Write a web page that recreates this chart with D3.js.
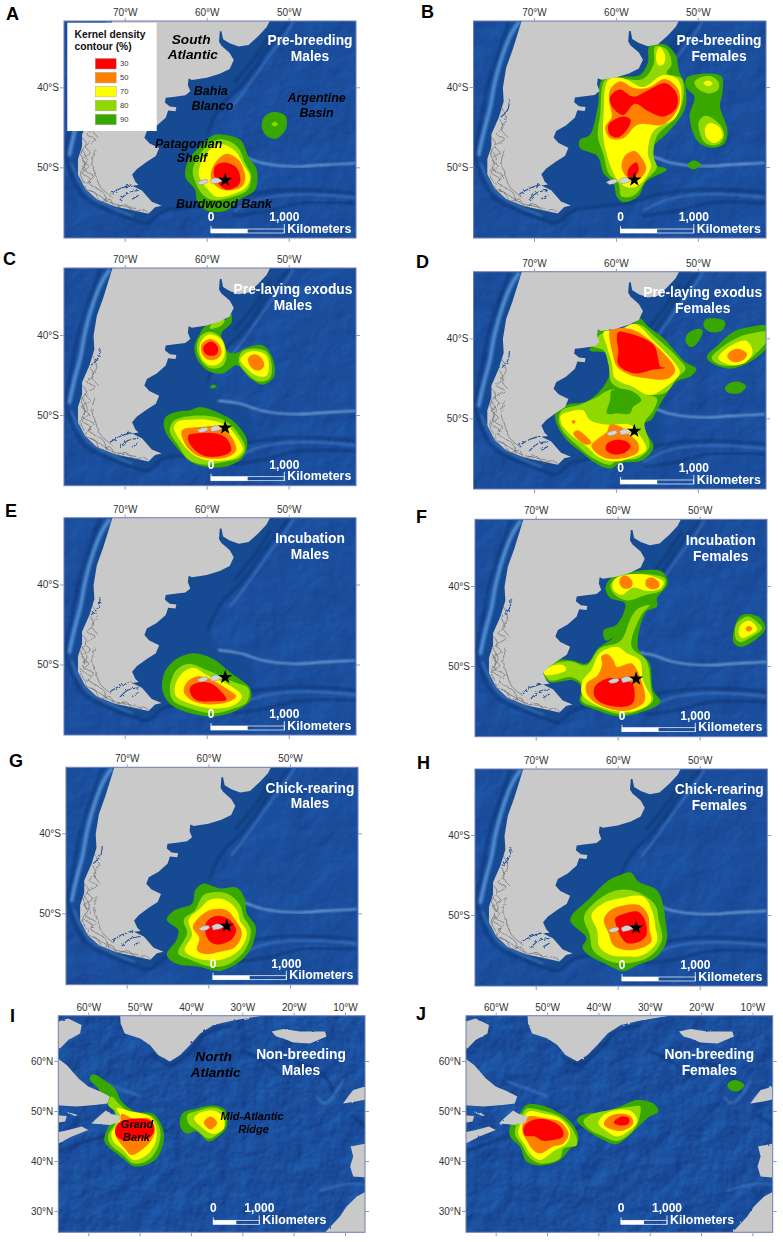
<!DOCTYPE html>
<html>
<head>
<meta charset="utf-8">
<script src="https://d3js.org/d3.v7.min.js"></script>
<style>
  html, body { margin: 0; padding: 0; background: #fff; }
  svg { display: block; font-family: "Liberation Sans", Arial, sans-serif; }
  .axis text { font-size: 10px; fill: #333; }
  .axis line { stroke: #8f9cc4; }
  .axis .domain { display: none; }
</style>
</head>
<body>
<svg id="chart" width="783" height="1242"></svg>
<script>
// Legend
const levels = [30, 50, 70, 80, 90];
const levelColors = ["#ff0000", "#ff8000", "#ffff00", "#8fd800", "#38a800"];

// Graticule
const southLonTicks = [-70, -60, -50];
const southLatTicks = [-40, -50];
const northLonTicks = [-60, -50, -40, -30, -20, -10];
const northLatTicks = [60, 50, 40, 30];

const colony = [-57.75, -51.6];

// Land, lon/lat
const southAmerica = [[-71.5,-31.1],[-52.2,-31.1],[-52.3,-31.7],[-52.7,-32.5],[-53.7,-33.6],[-54.9,-34.7],[-56.1,-34.9],[-57.2,-34.5],[-58,-34],[-58.2,-33],[-58.4,-33],[-58.5,-34.3],[-58.2,-34.8],[-57.2,-35.7],[-56.7,-36.6],[-57.2,-37.7],[-58.4,-38.3],[-60,-38.8],[-61.8,-39.1],[-62.2,-38.9],[-62.3,-39.7],[-62,-40.5],[-62.6,-41],[-64.1,-41.2],[-65,-41.3],[-65.1,-41.9],[-64.5,-42.4],[-63.7,-42.5],[-63.8,-43],[-64.7,-42.9],[-65,-43.8],[-66.1,-44.8],[-67.3,-45.5],[-67.6,-46.3],[-67,-47],[-65.8,-47.6],[-66.2,-48.6],[-67.3,-49.3],[-68.5,-50.2],[-69.1,-50.9],[-68.7,-51.8],[-68.3,-52.2],[-69.1,-52.3],[-67.9,-52.9],[-66.7,-54.3],[-65.5,-54.8],[-66.3,-55],[-67.1,-55.8],[-68.9,-55.4],[-71.2,-54.9],[-73.4,-54],[-74.8,-52.7],[-75.7,-50.9],[-75.7,-49],[-75.2,-47.4],[-75.2,-45.9],[-74.3,-43.8],[-73.7,-41.8],[-73.8,-40.1],[-73.4,-37.6],[-72.6,-35.3],[-71.5,-31.7]];
const falklands = [
  [[-61.2,-51.9],[-60.6,-51.6],[-60,-51.5],[-59.8,-51.8],[-60.2,-52.1],[-60.8,-52.2]],
  [[-59.6,-51.6],[-59,-51.3],[-58.2,-51.4],[-58.1,-51.7],[-58.6,-51.95],[-59.4,-52.1]]
];
const fjordLines = [
  [[-74.2,-44],[-73.8,-45.1],[-74.6,-45.9],[-73.6,-46.5],[-74.8,-47.4],[-74.2,-48.2],[-75.2,-49],[-74.4,-49.9],[-75.2,-50.7],[-74.2,-51.5],[-74.8,-52.6],[-73.6,-53.2],[-73,-54.3],[-71.8,-54],[-71.2,-54.9],[-69.8,-54.7],[-68.9,-55.5],[-67.7,-55.3],[-67.1,-55.7]],
  [[-75.2,-47.8],[-74.6,-49],[-75,-50.3],[-73.8,-51.1],[-74.4,-51.9],[-72.6,-53.2],[-72.2,-54.4]],
  [[-73.6,-47.8],[-74,-49.5],[-73.6,-50.7],[-73,-52.4],[-71.6,-53.7]],
  [[-74,-42.5],[-73.4,-44],[-74,-45.2],[-73.2,-46.3]],
  [[-75.3,-46.2],[-74.7,-47],[-75.3,-48.2],[-74.9,-49.6],[-75.4,-50.8],[-74.9,-52]],
  [[-74.2,-52.9],[-73,-53.6],[-71.6,-54.5],[-70,-54.9],[-68.6,-55.2]]
];
const fjordWater = [
  [[-71.8,-53.4],[-70.4,-52.6],[-69.2,-52.2]],
  [[-70.6,-54.1],[-69.6,-53.2],[-68.3,-52.9]],
  [[-69.1,-54],[-68.3,-53.5]],
  [[-73,-41.6],[-73.2,-42.8],[-74.1,-43.8]]
];
const northLand = [
  [[-53.8,70],[-53.8,69.1],[-53.7,67.5],[-52.9,65.5],[-49.9,64.5],[-48,63.2],[-46.4,61.2],[-44.1,59.9],[-42.1,61.2],[-40.2,63.2],[-38.2,65.5],[-35.6,67.2],[-31.8,68.1],[-25.9,69.1],[-25,70]],
  [[-67,67.5],[-63.9,68.5],[-61.3,67.2],[-61.6,65.5],[-63.9,64.2],[-65.5,62.5],[-67,63.2]],
  [[-67,61],[-65.8,60.4],[-64.2,59.2],[-61.9,56.5],[-60,54.9],[-57.7,53.9],[-55.8,52.9],[-56.3,51.5],[-58.7,51.2],[-62.3,50.9],[-67,51.2]],
  [[-59.4,47.5],[-58.4,48.5],[-56.6,50.1],[-55.5,49.4],[-53.7,49],[-54.2,47.7],[-55.8,47.2]],
  [[-67,42.8],[-65.8,43.5],[-63.2,44.9],[-60,46.2],[-61.3,46.9],[-63.9,46.2],[-67,45.5]],
  [[-67,49.2],[-64.2,49],[-64.5,47.9],[-67,47.5]],
  [[-64.5,49.9],[-62,49.2],[-62.6,49]],
  [[-24.3,65.9],[-22,66.4],[-18.8,65.9],[-13.9,65.9],[-13.6,64.9],[-16.8,63.5],[-20.1,63.7],[-22,64.5],[-23.4,64.9]],
  [[-5,55.2],[-8.4,54.2],[-9.4,52.9],[-10.4,51.5],[-8.4,51.8],[-5,52.5]],
  [[-8.9,42.9],[-5,43.7],[-5,36.6],[-8.4,36.9],[-9,38.9],[-8.4,40.9]],
  [[-5,34.4],[-7.7,32.9],[-9.7,30.9],[-11,28.9],[-13.9,25.7],[-14.5,25],[-5,25]]
];

// Sea floor, lon/lat
const southShelf = [[-50,-31],[-51.1,-33.2],[-52.7,-35.3],[-54.3,-37.8],[-55.9,-39.9],[-58,-42],[-59.2,-44],[-59.8,-45.7],[-58.6,-48],[-55.9,-48.6],[-54.5,-50],[-54.3,-53.3],[-58.4,-54.5],[-62.4,-55],[-65.3,-55.5],[-67.3,-57],[-69,-56.5],[-72,-55.2],[-75,-53.2],[-76.5,-49.5],[-76,-45],[-75,-40],[-74,-35],[-72,-31]];
const southDeepLines = [
  [[-50,-31.8],[-51.1,-33.2],[-52.7,-35.3],[-54.3,-37.8],[-55.9,-39.9],[-58,-42],[-59.2,-44],[-59.8,-45.7]],
  [[-52.2,-33.2],[-53.8,-35.8],[-55.3,-37.8],[-56.6,-39.4]],
  [[-68.9,-56.5],[-67.3,-57],[-65.3,-55.5],[-62.4,-55],[-58.4,-54.5],[-54.3,-53.3],[-49.4,-52.8],[-41.8,-53.2]],
  [[-56.7,-56.1],[-52.7,-55.5],[-48.6,-54.5],[-41.8,-54.5]],
  [[-73,-31.8],[-74.4,-35.7],[-75.7,-39.9],[-76.3,-43.2],[-77.1,-47.4],[-77.1,-49],[-75.1,-53.6],[-71.8,-55.5],[-69,-56.5]]
];
const southLightLines = [
  [[-49.4,-31.8],[-50.4,-33.4],[-52.1,-35.7],[-53.7,-38],[-55.3,-40.3],[-57.2,-42.8]],
  [[-41.8,-53.8],[-48.6,-53.4],[-53.5,-54],[-56.7,-55.5]],
  [[-76.5,-49.5],[-74.6,-53.2],[-71.8,-54.9],[-69,-56.1]]
];
const falklandEscarpment = [[-58.6,-48.2],[-55.9,-48.6],[-53.1,-49.5],[-49.4,-49.9],[-45.8,-49.7],[-41.8,-49.5]];
const chileSlope = [[-71.8,-31.8],[-72.8,-33.4],[-73.8,-35.9],[-74.8,-39.5],[-75.4,-42.8],[-76.1,-45.5],[-76.8,-48.6]];
const northDeepLines = [
  [[-67,41.5],[-61.6,43.5],[-57.1,44.9],[-45.4,45.9],[-43.1,47]],
  [[-47.3,61.2],[-43.8,59.2],[-40.2,61.9],[-37,65.5],[-31.8,67.2]],
  [[-9,49.2],[-5,46.5]],
  [[-20,60],[-14,57],[-12,53]],
  [[-30,62],[-26,60],[-22,57]]
];
const northLightLines = [
  [[-15.5,52.9],[-13.9,51.5],[-10.3,56.2]],
  [[-58,56],[-54,54.5],[-50,53]],
  [[-15,34],[-9,35.5],[-5,35]]
];

// Kernel contours, [level, lon/lat ring], drawn in this order
const panelAContours = [
  [90, [[-58.2,-45.9],[-55.9,-46.6],[-54.9,-48.7],[-53.9,-50.3],[-54.1,-52.8],[-56.1,-54.1],[-57.6,-55.4],[-60,-55.4],[-61.2,-54.1],[-61.4,-52.8],[-62.6,-51.2],[-62.2,-49.1],[-60.4,-47],[-59.2,-46]]],
  [90, [[-51.8,-43.1],[-50.4,-43.6],[-50.3,-45.1],[-51.5,-46.4],[-52.7,-46.1],[-53.3,-44.9],[-52.9,-43.6]]],
  [80, [[-51.7,-44.3],[-51.3,-44.6],[-51.7,-44.9],[-52.1,-44.6]]],
  [80, [[-58.2,-46.5],[-56.3,-47.4],[-55.3,-49.5],[-54.6,-51],[-55,-52.8],[-57.2,-53.8],[-59.2,-54.1],[-60.4,-53.5],[-61.4,-51.8],[-61.7,-50.3],[-60.8,-48.3],[-59.6,-47]]],
  [70, [[-58.4,-47.1],[-56.5,-48],[-55.5,-49.7],[-54.7,-51.2],[-55.3,-52.6],[-57.2,-53.5],[-58.8,-53.7],[-60,-52.6],[-60.9,-51.2],[-60.8,-49.7],[-59.8,-48]]],
  [50, [[-57.6,-48.3],[-56.1,-49.1],[-55.3,-51.2],[-55.7,-52.4],[-57.6,-52.9],[-58.8,-52.4],[-59.5,-51.2],[-59,-49.5]]],
  [30, [[-58,-49.4],[-56.5,-49.9],[-55.9,-51.2],[-56.1,-52.2],[-57.6,-52.8],[-58.6,-52],[-59.1,-51],[-59,-49.9]]]
];
const panelBContours = [
  [90, [[-55.9,-34.9],[-54,-34.7],[-52.7,-36],[-52.3,-38],[-51.5,-39.9],[-51.6,-42.8],[-53.8,-45.8],[-55.4,-47.4],[-55.7,-49.5],[-53.8,-50.3],[-56.3,-51.8],[-57.3,-53.7],[-59.1,-54.4],[-59.9,-53.7],[-60.3,-52],[-61.5,-50.8],[-62,-49.1],[-62.4,-48.5],[-64.4,-47.6],[-64.4,-46.6],[-63.2,-46],[-62.2,-42.4],[-61.7,-39.1],[-59.1,-38.7],[-57.1,-38.5],[-56.1,-37]]],
  [90, [[-51.4,-38.9],[-48.9,-38.3],[-47.1,-38.7],[-47,-40.8],[-47.3,-42.4],[-46.4,-45.3],[-46.7,-47],[-48.1,-47.6],[-50,-46.8],[-51,-43.7],[-50.4,-41.2],[-51.4,-40.1]]],
  [90, [[-50.5,-49.2],[-49.6,-49.7],[-50.5,-50.3],[-51.3,-49.8]]],
  [80, [[-48.7,-38.6],[-47.5,-39.3],[-47.5,-40.3],[-48.7,-40.8],[-50,-40.2],[-50.4,-39.3]]],
  [80, [[-49.1,-43.6],[-47.3,-44.7],[-46.8,-46.2],[-47.5,-47.2],[-49.1,-47],[-49.9,-44.5]]],
  [80, [[-55.2,-34.9],[-53.8,-35.3],[-53.2,-37.2],[-53.8,-38.3],[-52,-38.9],[-51.8,-41.6],[-52.6,-43.7],[-55,-46.2],[-55.4,-48.7],[-55,-50.1],[-56.3,-51.6],[-57.7,-53.5],[-59.3,-53.7],[-59.7,-52],[-60.9,-50.8],[-61.5,-48.5],[-62.2,-46.2],[-61.9,-43.3],[-61.3,-39.1],[-59.1,-39],[-56.7,-39],[-55.4,-37.2]]],
  [70, [[-48.7,-39.2],[-48.2,-39.6],[-48.7,-39.9],[-49.3,-39.5]]],
  [70, [[-48.5,-44.5],[-47.3,-45.1],[-47,-46.2],[-47.9,-47],[-48.9,-46.4],[-49.1,-45.1]]],
  [70, [[-54.7,-35],[-54,-36],[-54.2,-37.2],[-54.8,-37.3],[-55.1,-36.2]]],
  [70, [[-60.9,-39.1],[-59.1,-38.9],[-56.7,-40],[-54.2,-38.5],[-52.4,-39.1],[-52,-41.6],[-52.8,-43.9],[-55.4,-45.5],[-56.1,-48.3],[-55.7,-49.9],[-57.1,-52.2],[-58.3,-52.6],[-59.5,-52],[-60.5,-50.3],[-61.5,-46.6],[-61.5,-43.3]]],
  [50, [[-60.7,-40.3],[-59.5,-39.3],[-57.9,-40.1],[-56.1,-40.1],[-54,-39],[-52.4,-40.3],[-52.3,-42.4],[-54.2,-44.7],[-57.3,-44.7],[-59.1,-46.4],[-60.7,-46.4],[-61.3,-45.1],[-60.5,-43.7],[-60.8,-42]]],
  [50, [[-57.7,-48],[-56.7,-49.1],[-56.3,-50.3],[-57.3,-51.6],[-58.5,-51.4],[-59.3,-50.1],[-58.9,-48.6]]],
  [30, [[-59.5,-40.3],[-57.9,-41.2],[-55.9,-40.3],[-54,-39.5],[-52.6,-40.8],[-52.6,-42.6],[-54.2,-43.7],[-56.1,-43],[-57.7,-42.1],[-59.1,-43.5],[-60.5,-42.4],[-60.7,-41.2]]],
  [30, [[-59.1,-43.7],[-58.2,-44.1],[-58.5,-45.1],[-59.7,-46.3],[-60.7,-46],[-60.9,-44.7]]],
  [30, [[-57.5,-49.4],[-57.2,-50.3],[-57.7,-51.2],[-58.5,-51.2],[-58.5,-50.3]]]
];
const panelCContours = [
  [90, [[-60.8,-49],[-58.4,-49.8],[-56.7,-50.8],[-55.1,-53.1],[-55.5,-55.2],[-57.2,-56.3],[-60,-56.5],[-62,-55.8],[-63.7,-54],[-65.1,-51.9],[-65.1,-50.4],[-63.7,-49.6],[-62,-49.4]]],
  [90, [[-57,-37.4],[-57,-38.5],[-58.2,-39.8],[-57.6,-41.9],[-56.7,-42.3],[-54.9,-41.5],[-53.1,-41.3],[-51.9,-43.1],[-51.8,-45.2],[-53.1,-46.2],[-54.7,-45.4],[-56.3,-43.8],[-58,-44.8],[-59.6,-44.6],[-61,-43.3],[-61.5,-41.5],[-60.8,-39.8],[-60.2,-38.9],[-58.2,-38.5]]],
  [90, [[-59.2,-46.2],[-58.8,-46.4],[-59.3,-46.7],[-59.6,-46.5]]],
  [80, [[-57.8,-38.1],[-58.2,-38.8],[-59.6,-39.2],[-59.4,-38.6]]],
  [80, [[-62.4,-50.2],[-60,-50.1],[-57.6,-50.8],[-55.9,-52.7],[-55.3,-54.3],[-56.1,-55.4],[-57.6,-55.8],[-60.4,-56.2],[-62.2,-55.6],[-63.4,-53.9],[-64.5,-52],[-64.1,-50.8]]],
  [80, [[-59.6,-39.6],[-58.2,-40.4],[-57.6,-42.3],[-58,-43.8],[-59.4,-44.2],[-60.6,-43.3],[-61.2,-41.7],[-60.8,-40.2]]],
  [80, [[-54.3,-41.7],[-52.7,-42.1],[-52.1,-43.5],[-52.3,-45.4],[-53.7,-45.8],[-55.3,-44.6],[-56.1,-43.3],[-55.7,-42.1]]],
  [70, [[-62,-50.6],[-60,-50.6],[-57.6,-51.3],[-56.1,-53.1],[-55.6,-54.4],[-56.7,-55.4],[-59.6,-55.7],[-61.6,-55],[-63.3,-53.1],[-64,-51.5],[-63.5,-50.8]]],
  [70, [[-59.6,-39.9],[-58.2,-40.6],[-57.8,-42.3],[-58.4,-43.5],[-59.6,-43.8],[-60.6,-42.9],[-60.9,-41.5],[-60.4,-40.4]]],
  [70, [[-54.2,-42],[-52.8,-42.5],[-52.4,-43.8],[-52.7,-45.1],[-53.9,-45.1],[-55.3,-44],[-55.9,-43.1],[-55.3,-42.3]]],
  [50, [[-60.8,-51.5],[-58.4,-51.5],[-57,-52.7],[-56.4,-54.4],[-57.6,-55.3],[-60,-55.4],[-61.6,-54.8],[-62.8,-53.3],[-63,-51.9]]],
  [50, [[-59.5,-40.5],[-58.4,-41.3],[-58.2,-42.3],[-58.8,-43],[-59.8,-43.1],[-60.6,-42.3],[-60.6,-41.1]]],
  [50, [[-54.2,-42.4],[-53.3,-42.9],[-53,-43.8],[-53.5,-44.4],[-54.3,-44.3],[-54.9,-43.5],[-54.9,-42.8]]],
  [30, [[-61.4,-52.3],[-58.8,-52.3],[-57.6,-52.9],[-57,-54.4],[-57.8,-55],[-60,-55.2],[-61.2,-54.6],[-62.2,-53.3],[-62.2,-52.5]]],
  [30, [[-59.5,-40.8],[-58.7,-41.4],[-58.7,-42.3],[-59.4,-42.6],[-60.2,-42.3],[-60.4,-41.5]]]
];
const panelDContours = [
  [90, [[-57.1,-37.5],[-56.1,-38.5],[-54.2,-40],[-51.6,-42.9],[-50.2,-43.8],[-50.8,-44.7],[-52.6,-45.4],[-53.8,-46.9],[-55,-49],[-55.7,-50.2],[-56.9,-50.8],[-55.4,-53.5],[-56.7,-55.2],[-59.5,-55.6],[-60.7,-56.3],[-62.8,-55.4],[-64,-54.4],[-66,-52.7],[-67.2,-50.8],[-67.4,-49.4],[-66,-48.3],[-63.6,-47.9],[-61.5,-46],[-60.5,-43.5],[-61.1,-41.9],[-63.2,-41.5],[-62.4,-40.2],[-62.2,-39],[-60.3,-39],[-57.9,-38.2]]],
  [90, [[-48.1,-37.5],[-46.7,-37.9],[-47,-39],[-48.5,-39.2],[-49.3,-38.5],[-49.1,-37.7]]],
  [90, [[-50,-38.8],[-49.4,-39],[-49.8,-40.2],[-50.8,-41.1],[-51.5,-40.4],[-51.2,-39.4]]],
  [90, [[-43.7,-38.6],[-41.5,-38.5],[-41.5,-41],[-43.9,-43.1],[-46.1,-43.8],[-48.3,-43.1],[-48.9,-42.3],[-47.5,-40.8],[-45.7,-39.2]]],
  [90, [[-45.1,-45.4],[-44.1,-46],[-44.8,-46.8],[-46.3,-46.8],[-46.7,-46.3],[-46.3,-45.7]]],
  [80, [[-57.3,-38.2],[-55,-40],[-52.4,-42.5],[-51.5,-43.8],[-52.6,-45],[-53.8,-46.7],[-56.7,-47.1],[-58.3,-46.7],[-60.5,-45.6],[-60.9,-43.3],[-61.5,-41.5],[-62.7,-41],[-62,-39.6],[-59.9,-39]]],
  [80, [[-60.5,-46.4],[-57.1,-47],[-55,-47.5],[-55.4,-49],[-56.5,-50.6],[-55.9,-53.5],[-57.3,-55],[-59.9,-55.2],[-60.7,-55.8],[-62.8,-55],[-64.8,-53.3],[-66.4,-51.7],[-67,-50.2],[-66.6,-49],[-64.4,-48.3],[-62.6,-47.5]]],
  [80, [[-43.5,-39.4],[-41.5,-39.2],[-41.5,-40.2],[-43.1,-42.1],[-44.9,-43.3],[-47.3,-43.3],[-48.3,-42.5],[-46.9,-41],[-44.9,-39.8]]],
  [90, [[-60.5,-46.5],[-58.3,-46.5],[-56.9,-47.7],[-57.9,-48.6],[-58.3,-49.4],[-59.9,-49.4],[-61.1,-49.4],[-60.7,-47.7]]],
  [70, [[-57.7,-38.2],[-55.5,-40.2],[-52.8,-43.1],[-52.2,-44.4],[-53.8,-46],[-55.9,-47.1],[-57.9,-46.1],[-60.1,-45],[-60.5,-43.1],[-61.1,-41],[-61.5,-39.2],[-59.5,-39]]],
  [70, [[-65.8,-49.2],[-64,-49],[-63.2,-50.2],[-60.9,-50.8],[-58.3,-50.8],[-57.1,-52.1],[-56.3,-53.9],[-57.7,-54.8],[-60.3,-55.4],[-62.2,-54.8],[-63.6,-53.5],[-65.5,-52.1],[-66.7,-50.6],[-66.7,-49.6]]],
  [70, [[-44.1,-40.3],[-43.3,-41.7],[-44.3,-43.1],[-46.1,-43.3],[-47.5,-42.5],[-46.1,-41]]],
  [50, [[-58.3,-38.8],[-55.9,-40.2],[-53,-43.3],[-52.8,-44.2],[-53.8,-45.1],[-56.3,-45],[-58.3,-44.6],[-59.9,-43.5],[-60.4,-41.9],[-60.8,-39.8],[-60.7,-39]]],
  [50, [[-60.7,-50.8],[-59.5,-51],[-58.5,-51.9],[-57.3,-53.1],[-57.3,-54.2],[-59.1,-55],[-61.5,-54.9],[-63,-53.5],[-62.4,-52.7],[-61.1,-51.7]]],
  [50, [[-64.8,-51.5],[-64,-51.9],[-63,-53.1],[-63.6,-53.3],[-64.6,-52.7],[-65.2,-51.9]]],
  [50, [[-65.2,-50.2],[-64.9,-50.4],[-65.2,-50.7],[-65.4,-50.4]]],
  [50, [[-45.1,-41.3],[-44,-41.9],[-44.3,-42.6],[-45.5,-43],[-46.4,-42.3],[-46.1,-41.7]]],
  [30, [[-59.7,-39.2],[-58.3,-39.4],[-55.4,-40.8],[-54.8,-42.7],[-54.6,-43.5],[-54,-43.7],[-55.4,-43.9],[-57.7,-44.4],[-59.7,-43.3],[-59.7,-41.5],[-59.9,-40]]],
  [30, [[-60.1,-52.7],[-58.7,-52.9],[-58.2,-53.5],[-58.9,-54.3],[-60.3,-54.5],[-61.2,-54],[-61.1,-53.2]]]
];
const panelEContours = [
  [90, [[-61.6,-48.6],[-59.2,-49.3],[-57,-51.1],[-54.7,-53],[-54.7,-54.5],[-56.7,-55.9],[-59.2,-56.5],[-62,-56.1],[-64.5,-54.9],[-65.4,-53.2],[-65.1,-50.9],[-63.7,-49.3]]],
  [80, [[-62.2,-49.9],[-60,-50.7],[-56.7,-52.2],[-54.9,-53],[-55.1,-54.7],[-56.7,-55.5],[-59.2,-56.1],[-62,-55.5],[-64.1,-54.5],[-64.5,-53],[-63.7,-50.7]]],
  [70, [[-61.6,-50.4],[-60,-51.3],[-57.2,-52.6],[-55.7,-54],[-56.7,-55.1],[-59.2,-55.5],[-62,-54.9],[-63.7,-54],[-63.9,-52.8],[-63,-51.1]]],
  [50, [[-61.2,-51.5],[-59.6,-51.8],[-57.6,-53],[-56.4,-54],[-57.4,-54.7],[-59.8,-55],[-61.8,-54.5],[-62.8,-53.4],[-62.4,-52.2]]],
  [30, [[-61.2,-52.3],[-59.6,-52.3],[-58.4,-53.2],[-57.6,-54.4],[-59.2,-54.6],[-61.2,-54.5],[-62,-53.6],[-62,-52.8]]]
];
const panelFContours = [
  [90, [[-56.5,-38],[-54.6,-38.2],[-53.9,-39.7],[-55.2,-41.5],[-55.2,-42.6],[-56.5,-43.2],[-57.5,-47.8],[-56.1,-49.7],[-55.7,-53],[-54.8,-54.5],[-56.9,-55.7],[-59.7,-56.3],[-62.6,-55.5],[-64.6,-54.5],[-64.4,-52.6],[-65.4,-51.8],[-68.3,-52],[-69.1,-50.9],[-67.8,-49.3],[-65.6,-49.3],[-63.8,-49.7],[-62.4,-47.8],[-60.5,-46.5],[-61.5,-46.8],[-61.7,-45.5],[-60.1,-44.8],[-59.1,-42.2],[-60.9,-41.5],[-61.5,-40.3],[-60.7,-38.9],[-58.5,-38.3]]],
  [90, [[-44,-43.5],[-42.6,-44],[-42,-45.3],[-43.3,-46.8],[-45.1,-47.6],[-45.9,-47],[-45.6,-44.7],[-45.1,-43.8]]],
  [80, [[-56.5,-38.5],[-54.2,-39.1],[-54.6,-40.5],[-56.5,-41.1],[-58.9,-41.8],[-60.5,-40.9],[-60.9,-39.9],[-59.7,-38.7],[-58.1,-38.5]]],
  [80, [[-56.1,-42.4],[-57.1,-43.6],[-58.3,-47.6],[-56.5,-49.3],[-55.9,-53],[-55.7,-54.3],[-57.3,-55.5],[-59.7,-56],[-62.4,-55.2],[-64.4,-54.3],[-64.1,-52.6],[-65.6,-51.4],[-68.3,-51.8],[-68.9,-50.7],[-67.7,-49.7],[-65.8,-49.4],[-63.8,-49.9],[-62.2,-47.8],[-59.7,-46.9],[-58.3,-43.8],[-57.5,-42.8]]],
  [80, [[-44.1,-43.8],[-43,-44.5],[-42.4,-45.3],[-43.6,-46.3],[-45.1,-47],[-45.6,-46.6],[-45.6,-44.9],[-45,-44.2]]],
  [70, [[-58.9,-38.6],[-56.5,-38.6],[-54.4,-39.5],[-54.8,-40.3],[-56.5,-40.6],[-58.1,-40.2],[-59.5,-41.1],[-60.5,-40.5],[-60.5,-39.3]]],
  [70, [[-67.8,-49.9],[-66.6,-49.9],[-66.3,-50.5],[-67.4,-51],[-68.9,-51.1],[-69,-50.7]]],
  [70, [[-60.1,-47.6],[-58.9,-48.4],[-57.3,-49.3],[-56.9,-51.8],[-55.9,-54.3],[-57.5,-55.5],[-59.7,-55.7],[-62.4,-55],[-64.3,-53.6],[-64.3,-51.9],[-63.2,-50.5],[-62.2,-48.4]]],
  [70, [[-44,-44.3],[-43.2,-44.9],[-43,-45.5],[-43.8,-46.1],[-44.8,-46.5],[-45.2,-46.1],[-45.1,-45]]],
  [50, [[-59,-38.7],[-58.2,-39.5],[-58.4,-40.2],[-59.3,-40.3],[-59.8,-39.6],[-59.6,-38.9]]],
  [50, [[-55.9,-38.9],[-55,-39.5],[-55,-40.2],[-55.9,-40.4],[-56.6,-39.9],[-56.5,-39.2]]],
  [50, [[-61.3,-48.5],[-60.5,-49.3],[-60.1,-50.1],[-58.3,-49.7],[-57.3,-51.3],[-56.7,-54.3],[-57.9,-55.3],[-59.9,-55.6],[-62.6,-54.7],[-63.8,-53.4],[-63.8,-52.2],[-62.4,-51.1],[-61.9,-49.7],[-62,-48.8]]],
  [50, [[-44,-45],[-43.6,-45.3],[-44,-45.7],[-44.4,-45.3]]],
  [30, [[-60.9,-51.5],[-58.3,-52.1],[-58,-54.3],[-58.5,-54.9],[-60.1,-55.1],[-62.2,-54.5],[-62.9,-53.6],[-62.8,-52.6],[-62.2,-52]]]
];
const panelGContours = [
  [90, [[-60.6,-46.3],[-58.6,-46.9],[-56.5,-46.8],[-55.5,-48.3],[-55.3,-50],[-54.2,-51.7],[-54.7,-54.2],[-56.1,-56],[-58.6,-57.2],[-61,-56.7],[-63.9,-56.3],[-65.1,-55.2],[-63.9,-53.3],[-63.7,-52.1],[-65.1,-50.8],[-64.1,-49.6],[-62,-48.8],[-61.6,-47.1]]],
  [80, [[-60.4,-47.6],[-57.8,-47.5],[-56.1,-49],[-55.7,-50.4],[-54.8,-52.1],[-55.5,-54.6],[-57.4,-56.3],[-59.4,-56.7],[-62.2,-55.8],[-63.7,-55],[-62.6,-52.5],[-63,-50.8],[-61.6,-49.6],[-61,-48.3]]],
  [70, [[-59.8,-48.3],[-58,-48.3],[-56.5,-49.6],[-56.1,-51],[-55.3,-52.3],[-55.9,-54.2],[-57.8,-55.6],[-59.8,-55.9],[-62,-55.4],[-62.9,-54.6],[-62,-52.7],[-62.4,-50.8],[-61,-49.4]]],
  [50, [[-59.4,-49.5],[-57.8,-49.6],[-56.7,-50.8],[-55.9,-52.5],[-56.7,-54.2],[-58.6,-54.8],[-60.4,-55.1],[-61.4,-54.6],[-61.1,-53.1],[-61.9,-51.7],[-60.8,-50.2]]],
  [30, [[-58.8,-50.3],[-57.4,-50.8],[-56.6,-52.1],[-57.2,-53.3],[-59,-53.9],[-60,-53.3],[-60.4,-51.7],[-60,-50.8]]]
];
const panelHContours = [
  [90, [[-58.4,-44.7],[-57.5,-45.8],[-55.2,-46.9],[-54.4,-49],[-54.2,-50.6],[-54,-53.1],[-55.2,-55.2],[-57.7,-56.3],[-59.3,-57],[-61.7,-56],[-63.8,-54.8],[-64.3,-54],[-63.8,-52.9],[-65.8,-50.6],[-63.4,-47.9],[-61.3,-45.8],[-59.7,-45]]],
  [80, [[-60.1,-46.9],[-57.7,-47.1],[-55.4,-48.8],[-55,-50.6],[-54.6,-53.1],[-56.1,-55.2],[-58.5,-56],[-60.9,-55.8],[-63,-54.4],[-63.4,-52.5],[-64.1,-50.2],[-62.4,-48.1]]],
  [70, [[-59.7,-47.9],[-56.9,-47.7],[-55.7,-49.8],[-55.4,-51.5],[-55.2,-53.3],[-56.9,-55],[-58.9,-55.2],[-60.9,-55],[-62.2,-54],[-62.5,-51.9],[-63.2,-50],[-61.7,-48.5]]],
  [50, [[-59.3,-48.8],[-57.3,-48.8],[-56.3,-50],[-56.1,-51.9],[-55.9,-53.3],[-57.3,-54.2],[-58.9,-54.4],[-60.5,-53.8],[-61.1,-52.3],[-61.7,-50.6],[-60.9,-49.4]]],
  [30, [[-59.1,-49.8],[-57.5,-49.6],[-56.7,-50.6],[-56.5,-52.5],[-57.3,-53.3],[-58.9,-53.5],[-59.6,-52.7],[-60.1,-51.5],[-60.3,-50.4]]]
];
const panelIContours = [
  [90, [[-58.7,57.3],[-57.1,56.3],[-54.8,54.5],[-53.5,51.9],[-50.9,49.9],[-47.3,49.4],[-45.4,46.2],[-45.4,43.5],[-47,40.2],[-50.9,38.9],[-53.2,40.5],[-56.1,42.9],[-56.9,44.2],[-55.8,47.5],[-54.8,49.5],[-56.4,51.5],[-58.4,54.9],[-59.7,56.2],[-59.5,57.2]]],
  [90, [[-38.9,50.5],[-35.6,51.1],[-33.4,50.2],[-33,46.9],[-34.7,44.9],[-36.6,43.9],[-38.9,45.9],[-40.9,45.5],[-42.1,46.9],[-41.7,49.5]]],
  [80, [[-55.5,52.9],[-53.8,51.2],[-51.6,49.5],[-47.7,49],[-46,46.2],[-46.4,42.9],[-48.3,40.2],[-51.2,39.5],[-53.2,41.2],[-55.8,43.5],[-56.1,45.2],[-54.8,47.5],[-54.8,49.9],[-56.1,51.2]]],
  [80, [[-38.9,50],[-35.6,50.7],[-33.6,49.7],[-33.4,47],[-35,45.2],[-36.6,44.5],[-38.9,46.2],[-40.5,47.5],[-40.7,49.2]]],
  [70, [[-54.5,50.5],[-51.6,49.9],[-48,48.9],[-46.7,46.2],[-47,43.5],[-48.6,41.2],[-51.2,40.2],[-53.2,42.2],[-55.1,43.9],[-55.5,45.5],[-54.5,47.2],[-53.7,48.9]]],
  [70, [[-38.2,49.7],[-35.6,50.1],[-33.8,48.9],[-33.6,46.5],[-35.6,45.4],[-37.6,46.5],[-39.4,48.5]]],
  [50, [[-53.5,49.4],[-51.2,48.5],[-48,48.5],[-47,46.2],[-47.7,44.2],[-49.6,42.2],[-51.6,41.2],[-52.9,42.5],[-54.2,44.2],[-54.8,45.9],[-53.8,47.5]]],
  [50, [[-36.2,48.9],[-34.9,47.7],[-36.2,46.3],[-37.5,47.7]]],
  [30, [[-53.2,48.1],[-49.9,48.5],[-47.7,47.9],[-47.2,45.9],[-48.3,44.5],[-49.9,44.5],[-52.9,44.1],[-54.5,44.9],[-54.8,46.2],[-54.2,47.5]]]
];
const panelJContours = [
  [90, [[-54,51.2],[-51.4,51.2],[-47.5,49.5],[-44.9,47.2],[-43.9,44.2],[-45.5,42.5],[-47.5,40.2],[-51.4,39.1],[-54,39.9],[-55.3,42.9],[-57.2,44.9],[-57.2,46.9],[-55.3,49.5]]],
  [90, [[-32.5,52.2],[-29.3,51.5],[-28.3,49.9],[-30.3,48.7],[-32.9,46.2],[-36.4,43.4],[-39,44.2],[-42.3,46.2],[-44.2,48.2],[-43.2,49.2],[-39,49.9],[-35.8,50.9]]],
  [90, [[-13.2,56.2],[-11.6,55.2],[-12.7,54],[-14.3,54.2],[-14.9,55.1],[-14.3,55.9]]],
  [80, [[-54,50.5],[-51.4,50.2],[-47.5,48.9],[-44.9,46.2],[-44.2,43.2],[-46.8,42.5],[-47.5,40.5],[-51.4,39.5],[-53.6,40.9],[-54.9,43.2],[-56.2,45.2],[-56,47.2],[-54.9,49.2]]],
  [80, [[-33.5,50.9],[-31.9,51],[-32.2,47.9],[-33.8,45.5],[-36.4,44],[-39,44.9],[-41.6,46.2],[-42.9,47.9],[-41.6,49.2],[-37.7,50.2]]],
  [70, [[-53.6,49.9],[-50.7,49.5],[-47.5,48.5],[-45.5,45.9],[-46.2,43.5],[-48.4,42.2],[-51.4,40.2],[-53.3,41.5],[-54.3,43.2],[-55.6,45.5],[-54.9,47.9]]],
  [70, [[-36.4,50.2],[-33.5,49.9],[-32.4,47.9],[-34.2,45.9],[-36.4,44.9],[-38.7,46.2],[-40,47.5],[-39,49.2]]],
  [50, [[-53.6,48.9],[-50.1,48.5],[-47.5,47.9],[-45.8,45.5],[-46.8,43.5],[-48.8,42.9],[-51.4,41.5],[-52.7,42.2],[-54,44.2],[-54.8,45.9],[-54.6,47.9]]],
  [50, [[-36.4,49.4],[-33.8,49],[-33.2,47.5],[-35.1,46.1],[-37.1,46.2],[-38.9,47.2],[-38.4,48.5]]],
  [30, [[-52.7,48.2],[-49.4,48.1],[-47.1,46.5],[-46.9,44.9],[-48.8,44.2],[-51,44.1],[-52.3,44.9],[-54.3,45.1],[-54.5,46.9]]],
  [30, [[-35.5,48.9],[-34,48.5],[-34.2,47.4],[-35.8,47.1],[-37,47.7]]]
];

// Place names, [text, lon, lat, font size]
const panelANames = [["South",-61.9,-34.6,13.7],["Atlantic",-61.7,-36.5,13.7],["Bahia",-59.5,-41,12.5],["Blanco",-59.3,-42.8,12.5],["Argentine",-46.6,-41.8,12.5],["Basin",-46.6,-43.7,12.5],["Patagonian",-62.2,-47.6,12.5],["Shelf",-61.8,-49.3,12.5],["Burdwood Bank",-57.9,-55.1,12.5]];
const panelINames = [["North",-35.6,60.1,13.7],["Atlantic",-35.2,56.9,13.7],["Mid-Atlantic",-28.1,48.2,11],["Ridge",-27.8,45.6,11],["Grand",-50.5,46.6,11],["Bank",-50.6,44.1,11]];

// frame: left, right, top, bottom. xAt/yAt tie two graticule lines to pixels.
const panels = [
  { id:"A", lx:6,   ly:20,   frame:[64,356,21,238],        xAt:[-70,124.7,-50,288.7], yAt:[-40,87.3,-50,167.3], south:true, title:["Pre-breeding","Males"], tx:310, ty:45, contours:panelAContours, names:panelANames },
  { id:"B", lx:421, ly:18,   frame:[473.5,766,21,238],     xAt:[-70,534,-50,697.8],   yAt:[-40,87,-50,167],    south:true, title:["Pre-breeding","Females"], tx:719, ty:45, contours:panelBContours },
  { id:"C", lx:3,   ly:265,  frame:[64,356,268,485.7],     xAt:[-70,124.7,-50,288.7], yAt:[-40,335,-50,415],   south:true, title:["Pre-laying exodus","Males"], tx:293, ty:294, contours:panelCContours },
  { id:"D", lx:416, ly:268,  frame:[473.5,766,271.7,489],  xAt:[-70,534,-50,697.8],   yAt:[-40,338.3,-50,418.3], south:true, title:["Pre-laying exodus","Females"], tx:702.7, ty:297.3, contours:panelDContours },
  { id:"E", lx:5,   ly:517,  frame:[64,356,517.7,735],     xAt:[-70,124.7,-50,288.7], yAt:[-40,584.5,-50,664.5], south:true, title:["Incubation","Males"], tx:310, ty:543.3, contours:panelEContours },
  { id:"F", lx:416, ly:523,  frame:[475,767,519.3,736.7],  xAt:[-70,535.7,-50,699.7], yAt:[-40,586,-50,666],   south:true, title:["Incubation","Females"], tx:720.7, ty:545, contours:panelFContours },
  { id:"G", lx:9,   ly:767,  frame:[66,358,767.3,984.7],   xAt:[-70,126.7,-50,290],   yAt:[-40,833.3,-50,913.3], south:true, title:["Chick-rearing","Males"], tx:310, ty:792.7, contours:panelGContours },
  { id:"H", lx:417, ly:769,  frame:[475,767.3,769,986],    xAt:[-70,535.7,-50,699.7], yAt:[-40,835,-50,915],   south:true, title:["Chick-rearing","Females"], tx:719.3, ty:794, contours:panelHContours },
  { id:"I", lx:10,  ly:1022, frame:[58.3,365,1015.7,1232.3], xAt:[-60,88.3,-10,345],  yAt:[60,1061,30,1211],   south:false, title:["Non-breeding","Males"], tx:301, ty:1059, contours:panelIContours, names:panelINames },
  { id:"J", lx:416, ly:1020, frame:[466,772.7,1015.7,1232.3], xAt:[-60,495.7,-10,752.4], yAt:[60,1061,30,1211], south:false, title:["Non-breeding","Females"], tx:709.3, ty:1059, contours:panelJContours }
];

const colorOf = d3.scaleOrdinal().domain(levels).range(levelColors);
const svg = d3.select("#chart");
const defs = svg.append("defs");

defs.append("filter").attr("id", "soft").append("feGaussianBlur").attr("stdDeviation", 1);

// shaded relief texture for the open ocean
function addSeaTexture(id, freq, scale) {
  const f = defs.append("filter").attr("id", id)
    .attr("x", 0).attr("y", 0).attr("width", 1).attr("height", 1)
    .attr("color-interpolation-filters", "sRGB");
  f.append("feTurbulence").attr("type", "fractalNoise").attr("baseFrequency", freq)
    .attr("numOctaves", 4).attr("seed", 7).attr("result", "n");
  const light = f.append("feDiffuseLighting").attr("in", "n")
    .attr("surfaceScale", scale).attr("lighting-color", "#fff");
  light.append("feDistantLight").attr("azimuth", 225).attr("elevation", 30);
}
addSeaTexture("seaSouth", 0.03, 1.6);
addSeaTexture("seaNorth", 0.045, 1.5);

// broken-up coast lines
function addJag(id, freq, scale) {
  const f = defs.append("filter").attr("id", id);
  f.append("feTurbulence").attr("type", "fractalNoise").attr("baseFrequency", freq)
    .attr("numOctaves", 2).attr("seed", 3).attr("result", "n");
  f.append("feDisplacementMap").attr("in", "SourceGraphic").attr("in2", "n").attr("scale", scale);
}
addJag("jag", 0.35, 3.5);
addJag("coast", 0.18, 2);

function drawPanel(p) {
  const [left, right, top, bottom] = p.frame;
  const x = d3.scaleLinear().domain([p.xAt[0], p.xAt[2]]).range([p.xAt[1], p.xAt[3]]);
  const y = d3.scaleLinear().domain([p.yAt[0], p.yAt[2]]).range([p.yAt[1], p.yAt[3]]);
  const open = d3.line().x(d => x(d[0])).y(d => y(d[1])).curve(d3.curveCatmullRom.alpha(0.5));
  const ring = d3.line().x(d => x(d[0])).y(d => y(d[1]));
  const smooth = d3.line().x(d => x(d[0])).y(d => y(d[1])).curve(d3.curveCatmullRomClosed.alpha(0.5));

  defs.append("clipPath").attr("id", "clip" + p.id).append("rect")
    .attr("x", left).attr("y", top).attr("width", right - left).attr("height", bottom - top);

  const map = svg.append("g").attr("clip-path", `url(#clip${p.id})`);
  map.append("rect").attr("x", left).attr("y", top).attr("width", right - left).attr("height", bottom - top)
    .attr("fill", "#1a4e9d");
  map.append("rect").attr("x", left).attr("y", top).attr("width", right - left).attr("height", bottom - top)
    .attr("filter", p.south ? "url(#seaSouth)" : "url(#seaNorth)")
    .style("mix-blend-mode", "overlay").attr("opacity", p.south ? 0.4 : 0.55);

  // sea floor
  if (p.south) {
    map.append("path").attr("d", ring(southShelf) + "Z").attr("fill", "#164b93").attr("filter", "url(#soft)");
    map.append("path").attr("d", open(chileSlope)).attr("fill", "none").attr("stroke", "#5b97da")
      .attr("stroke-width", 4).attr("filter", "url(#soft)").attr("opacity", 0.85);
  }
  map.selectAll(".deep").data(p.south ? southDeepLines : northDeepLines).enter().append("path")
    .attr("d", open).attr("fill", "none").attr("stroke", "#0c2f66").attr("opacity", 0.7)
    .attr("stroke-width", 2).attr("filter", "url(#soft)");
  map.selectAll(".lightline").data(p.south ? southLightLines : northLightLines).enter().append("path")
    .attr("d", open).attr("fill", "none").attr("stroke", "#6ba2de").attr("opacity", 0.5)
    .attr("stroke-width", 1.6).attr("filter", "url(#soft)");
  if (p.south) {
    map.append("path").attr("d", open(falklandEscarpment)).attr("fill", "none").attr("stroke", "#9cc6ee")
      .attr("opacity", 0.85).attr("stroke-width", 1.6).attr("filter", "url(#soft)");
  }

  // density contours
  map.selectAll(".contour").data(p.contours).enter().append("path")
    .attr("d", d => smooth(d[1])).attr("fill", d => colorOf(d[0])).attr("stroke", "none");

  // land on top, the contours stop at the coast
  const lands = p.south ? [southAmerica] : northLand;
  const landGroup = map.append("g");
  if (!p.south) landGroup.attr("filter", "url(#coast)");
  landGroup.selectAll(".land").data(lands).enter().append("path")
    .attr("d", d => ring(d) + "Z").attr("fill", "#c9c9c9");

  if (p.south) {
    const fjords = map.append("g").attr("filter", "url(#jag)");
    fjords.selectAll(".fjord").data(fjordLines).enter().append("path")
      .attr("d", open).attr("fill", "none").attr("stroke", "#5c5c5c").attr("stroke-width", 0.6);
    fjords.selectAll(".water").data(fjordWater).enter().append("path")
      .attr("d", open).attr("fill", "none").attr("stroke", "#1a4f9c").attr("stroke-width", 1.1);
    map.selectAll(".falkland").data(falklands).enter().append("path")
      .attr("d", d => ring(d) + "Z").attr("fill", "#d4d4d4").attr("stroke", "#777").attr("stroke-width", 0.4);
    map.append("path")
      .attr("d", d3.symbol(d3.symbolStar, 62)())
      .attr("transform", `translate(${x(colony[0])},${y(colony[1])})`)
      .attr("fill", "#000");
  }

  // place names
  if (p.names) {
    map.selectAll(".name").data(p.names).enter().append("text")
      .attr("x", d => x(d[1])).attr("y", d => y(d[2]))
      .attr("text-anchor", "middle").attr("font-weight", "bold").attr("font-style", "italic")
      .attr("font-size", d => d[3]).attr("fill", "#000").text(d => d[0]);
  }

  // season and sex
  map.selectAll(".title").data(p.title).enter().append("text")
    .attr("x", p.tx).attr("y", (d, i) => p.ty + i * 15.6)
    .attr("text-anchor", "middle").attr("font-weight", "bold").attr("font-size", 13.8)
    .attr("fill", "#fff").text(d => d);

  // 1,000 km scale bar
  const barX = p.south ? left + 147 : left + 155;
  const barW = p.south ? 73.3 : 46;
  const barY = p.south ? bottom - 9 : bottom - 12;
  map.append("rect").attr("x", barX).attr("y", barY).attr("width", barW).attr("height", 4)
    .attr("fill", "none").attr("stroke", "#fff").attr("stroke-width", 0.7);
  map.append("rect").attr("x", barX).attr("y", barY).attr("width", barW / 2).attr("height", 4).attr("fill", "#fff");
  map.append("line").attr("x1", barX + barW).attr("x2", barX + barW).attr("y1", barY - 5).attr("y2", barY + 4)
    .attr("stroke", "#fff").attr("stroke-width", 0.8);
  map.append("line").attr("x1", barX).attr("x2", barX).attr("y1", barY - 3).attr("y2", barY + 4)
    .attr("stroke", "#fff").attr("stroke-width", 0.8);
  const barText = map.append("g").attr("font-weight", "bold").attr("fill", "#fff");
  barText.append("text").attr("x", barX).attr("y", barY - 8).attr("text-anchor", "middle").attr("font-size", 12).text("0");
  barText.append("text").attr("x", barX + barW).attr("y", barY - 8).attr("text-anchor", "middle").attr("font-size", 12).text("1,000");
  barText.append("text").attr("x", barX + barW + 3).attr("y", barY + 3.7).attr("font-size", 12.4).text("Kilometers");

  // frame and graticule ticks
  svg.append("rect").attr("x", left).attr("y", top).attr("width", right - left).attr("height", bottom - top)
    .attr("fill", "none").attr("stroke", "#6f7db3").attr("stroke-width", 1);

  const lonTicks = p.south ? southLonTicks : northLonTicks;
  const latTicks = p.south ? southLatTicks : northLatTicks;
  const lonLabel = d => Math.abs(d) + "°W";
  const latLabel = d => Math.abs(d) + (d < 0 ? "°S" : "°N");
  svg.append("g").attr("class", "axis").attr("transform", `translate(0,${top})`)
    .call(d3.axisTop(x).tickValues(lonTicks).tickFormat(lonLabel).tickSize(3).tickPadding(2));
  svg.append("g").attr("class", "axis").attr("transform", `translate(0,${bottom})`)
    .call(d3.axisBottom(x).tickValues(lonTicks).tickFormat("").tickSize(4));
  svg.append("g").attr("class", "axis").attr("transform", `translate(${left},0)`)
    .call(d3.axisLeft(y).tickValues(latTicks).tickFormat(latLabel).tickSize(4).tickPadding(1));
  svg.append("g").attr("class", "axis").attr("transform", `translate(${right},0)`)
    .call(d3.axisRight(y).tickValues(latTicks).tickFormat("").tickSize(4));

  // panel letter
  svg.append("text").attr("x", p.lx).attr("y", p.ly).attr("font-weight", "bold").attr("font-size", 18)
    .attr("fill", "#000").text(p.id);
}

panels.forEach(drawPanel);

// legend, panel A
const legend = svg.append("g");
legend.append("rect").attr("x", 67.3).attr("y", 22.7).attr("width", 89.4).attr("height", 108.3).attr("fill", "#fff");
legend.selectAll(".head").data(["Kernel density", "contour (%)"]).enter().append("text")
  .attr("x", 74.5).attr("y", (d, i) => 38 + i * 12.2)
  .attr("font-weight", "bold").attr("font-size", 10.3).attr("fill", "#111").text(d => d);
const legendY = d3.scalePoint().domain(levels).range([63.7, 119.5]);
legend.selectAll(".swatch").data(levels).enter().append("rect")
  .attr("x", 95.2).attr("y", d => legendY(d) - 5.3).attr("width", 21).attr("height", 10.6)
  .attr("fill", d => colorOf(d)).attr("stroke", "#aaa").attr("stroke-width", 0.5);
legend.selectAll(".swatchLabel").data(levels).enter().append("text")
  .attr("x", 120).attr("y", d => legendY(d) + 2.7)
  .attr("font-size", 7.6).attr("fill", "#333").text(d => d);
</script>
</body>
</html>
